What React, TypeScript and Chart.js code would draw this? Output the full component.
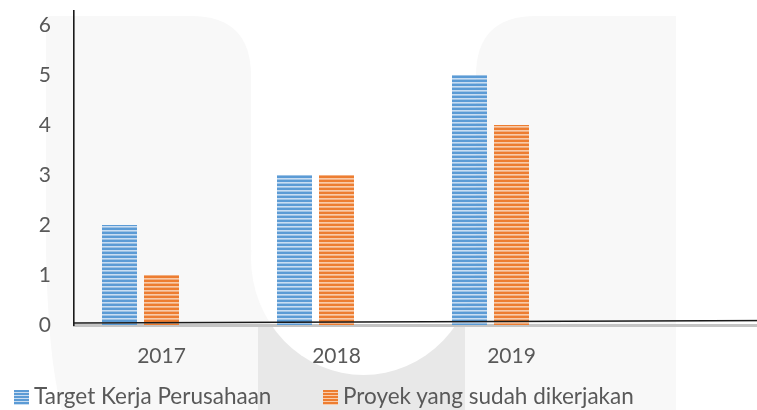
import React, { useEffect, useRef } from 'react';
import { Chart, registerables } from 'chart.js';
Chart.register(...registerables);

const categories = ['2017', '2018', '2019', ''];
const targetKerja = [2, 3, 5, null];
const proyekDikerjakan = [1, 3, 4, null];
const spacerSeries = [null, null, null, null];
const yTickValues = [0, 1, 2, 3, 4, 5, 6];
const legendLabels = ['Target Kerja Perusahaan', 'Proyek yang sudah dikerjakan'];

const BLUE_DARK = '#5b9bd5';
const BLUE_LIGHT = '#c9ddf2';
const ORANGE_DARK = '#ed7d31';
const ORANGE_LIGHT = '#f9cba9';
const TEXT = '#595959';
const FONT = 'Lato';

function stripes(dark: string, light: string) {
  const c = document.createElement('canvas');
  c.width = 4;
  c.height = 4;
  const g = c.getContext('2d')!;
  g.fillStyle = dark;
  g.fillRect(0, 0, 4, 2);
  g.fillStyle = light;
  g.fillRect(0, 2, 4, 1);
  g.fillStyle = dark;
  g.globalAlpha = 0.6;
  g.fillRect(0, 3, 4, 1);
  const ctx = document.createElement('canvas').getContext('2d')!;
  return ctx.createPattern(c, 'repeat')!;
}

const watermark = {
  id: 'watermark',
  beforeDraw(chart: any) {
    const ctx = chart.ctx;
    ctx.save();
    ctx.fillStyle = '#ffffff';
    ctx.fillRect(0, 0, chart.width, chart.height);
    ctx.fillStyle = '#f8f8f8';
    // left arm
    ctx.beginPath();
    ctx.moveTo(46, 16);
    ctx.lineTo(191, 16);
    ctx.quadraticCurveTo(251, 16, 251, 76);
    ctx.lineTo(251, 410);
    ctx.lineTo(62, 410);
    ctx.quadraticCurveTo(48, 360, 46, 250);
    ctx.closePath();
    ctx.fill();
    // right arm
    ctx.beginPath();
    ctx.moveTo(476, 76);
    ctx.quadraticCurveTo(476, 16, 536, 16);
    ctx.lineTo(676, 16);
    ctx.lineTo(676, 410);
    ctx.lineTo(476, 410);
    ctx.closePath();
    ctx.fill();
    // bottom band
    ctx.fillRect(250, 250, 227, 160);
    ctx.fillStyle = '#e8e8e8';
    ctx.fillRect(258, 326, 207, 84);
    // inner white of U
    ctx.fillStyle = '#ffffff';
    ctx.beginPath();
    ctx.ellipse(363.5, 258, 112.5, 117, 0, 0, Math.PI * 2);
    ctx.fill();
    ctx.restore();
  },
  afterDatasetsDraw(chart: any) {
    const ctx = chart.ctx;
    const y0 = chart.scales.y.getPixelForValue(0);
    ctx.save();
    ctx.strokeStyle = '#1a1a1a';
    ctx.lineWidth = 1.6;
    ctx.beginPath();
    ctx.moveTo(chart.chartArea.left, y0 - 2);
    ctx.lineTo(chart.width, y0 - 4.5);
    ctx.stroke();
    ctx.restore();
  },
};

function App() {
  const ref = useRef<HTMLCanvasElement | null>(null);
  useEffect(() => {
    const canvas = ref.current!;
    const chart = new Chart(canvas, {
      type: 'bar',
      data: {
        labels: categories,
        datasets: [
          { label: legendLabels[0], data: targetKerja as any, backgroundColor: stripes(BLUE_DARK, BLUE_LIGHT) as any },
          { label: legendLabels[1], data: proyekDikerjakan as any, backgroundColor: stripes(ORANGE_DARK, ORANGE_LIGHT) as any },
          { label: '', data: spacerSeries as any, backgroundColor: 'transparent' },
        ],
      },
      options: {
        responsive: false,
        animation: false,
        layout: { padding: { top: 11, right: 6, left: 0, bottom: 0 } },
        plugins: { legend: { display: false }, tooltip: { enabled: false } },
        datasets: { bar: { barPercentage: 0.833, categoryPercentage: 0.72 } },
        scales: {
          x: {
            grid: { display: false, drawTicks: false },
            border: { display: true, color: '#c4c4c4', width: 3 },
            ticks: { color: TEXT, font: { family: FONT, size: 21 }, padding: 19, maxRotation: 0 },
            afterFit(scale: any) { scale.height = 85; scale.paddingLeft = 0; scale.paddingRight = 0; },
          },
          y: {
            min: 0,
            max: 6.28,
            grid: { display: false, drawTicks: false },
            border: { display: true, color: '#1a1a1a', width: 1.6 },
            ticks: { color: TEXT, font: { family: FONT, size: 21 }, padding: 23, stepSize: 1 },
            afterBuildTicks(scale: any) { scale.ticks = yTickValues.map((v) => ({ value: v })); },
            afterFit(scale: any) { scale.width = 74; scale.paddingTop = 0; scale.paddingBottom = 0; },
          },
        },
      },
      plugins: [watermark],
    });
    return () => chart.destroy();
  }, []);

  const box = (dark: string, light: string): React.CSSProperties => ({
    position: 'absolute',
    width: 15,
    height: 15,
    top: 390,
    background: `repeating-linear-gradient(to bottom, ${dark} 0px, ${dark} 2px, ${light} 2px, ${light} 3px)`,
  });
  const label: React.CSSProperties = {
    position: 'absolute',
    top: 382,
    fontFamily: FONT,
    fontSize: 22.5,
    lineHeight: '28px',
    color: TEXT,
    whiteSpace: 'nowrap',
  };

  return (
    <div style={{ position: 'fixed', left: 0, top: 0, width: 757, height: 410, overflow: 'hidden', background: '#fff' }}>
      <canvas ref={ref} width={780} height={410} style={{ display: 'block' }} />
      <div style={{ ...box(BLUE_DARK, BLUE_LIGHT), left: 14 }} />
      <div style={{ ...label, left: 34 }}>{legendLabels[0]}</div>
      <div style={{ ...box(ORANGE_DARK, ORANGE_LIGHT), left: 323 }} />
      <div style={{ ...label, left: 343 }}>{legendLabels[1]}</div>
    </div>
  );
}

export default App;
